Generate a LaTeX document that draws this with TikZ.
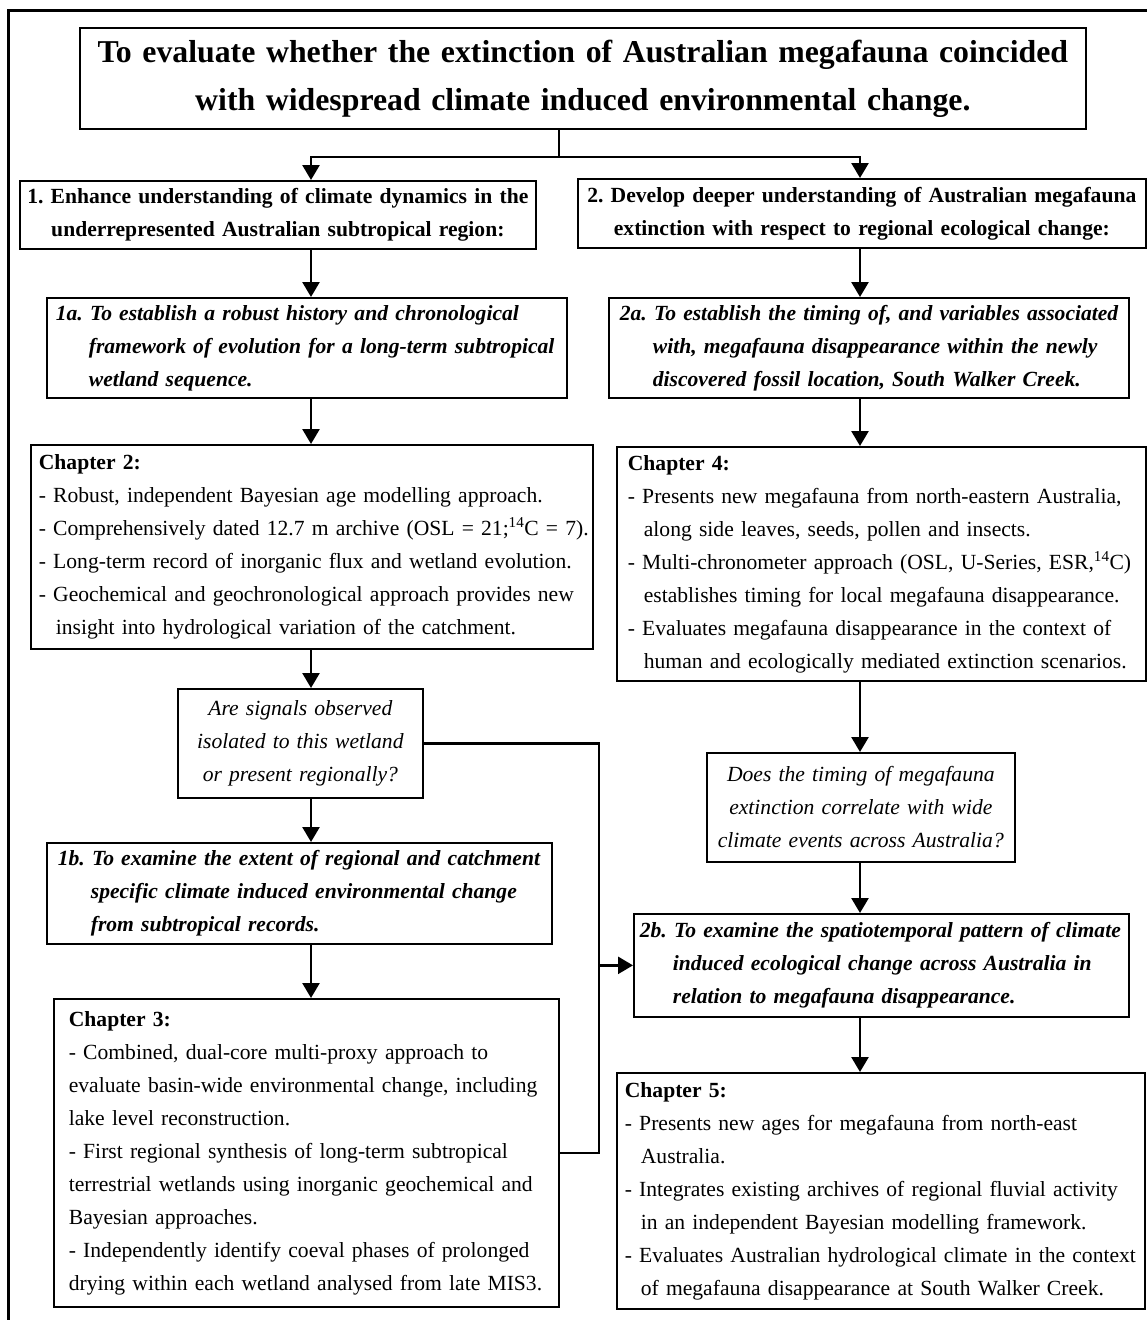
\documentclass[tikz,border=0pt]{standalone}
\usepackage{fontspec}
\setmainfont{Liberation Serif}
\usetikzlibrary{arrows.meta}
\tikzset{
  box/.style={draw, line width=1.7pt, inner xsep=0pt, inner ysep=0pt, anchor=north west,
    font=\fontsize{21.6}{33}\selectfont},
  conn/.style={line width=2.6pt},
  arr/.style={conn, -{Triangle[width=17pt,length=15pt]}},
}
\newcommand{\lx}[1]{\mbox{#1}}
\newcommand{\hg}{\hspace*{33pt}}
\newcommand{\hb}{\hspace*{16pt}}
\hbadness=10000 \hfuzz=200pt
\frenchspacing
\begin{document}
\begin{tikzpicture}[x=1pt,y=1pt]
\useasboundingbox[fill=white] (0,0) rectangle (1147,-1320);
\draw[line width=3pt] (8,-1320) -- (8,-10) -- (1147,-10);

\coordinate (colL) at (311,0);
\coordinate (colR) at (860,0);
\coordinate (busx) at (599,0);
\coordinate (split) at (559,-157);

\node[box, at={(79,-27)}, minimum width=1006pt, minimum height=101pt, text width=1000pt, align=center,
  font=\fontsize{31.8}{48}\selectfont\bfseries] (title)
  {\lx{To evaluate whether the extinction of Australian megafauna coincided}\\\lx{with widespread climate induced environmental change.}};

\node[box, at={(19,-180)}, minimum width=516pt, minimum height=68pt, text width=510pt, align=center,
  font=\fontsize{21.6}{33}\selectfont\bfseries] (b1)
  {\lx{1. Enhance understanding of climate dynamics in the}\\\lx{underrepresented Australian subtropical region:}};

\node[box, at={(577,-178)}, minimum width=568pt, minimum height=69pt, text width=562pt, align=center,
  font=\fontsize{21.6}{33}\selectfont\bfseries] (b2)
  {\lx{2. Develop deeper understanding of Australian megafauna}\\\lx{extinction with respect to regional ecological change:}};

\node[box, at={(46,-297)}, minimum width=520pt, minimum height=100pt, text width=502pt, align=left,
  font=\fontsize{21.6}{33}\selectfont\bfseries\itshape] (b1a)
  {\lx{1a. To establish a robust history and chronological}\\\lx{\hg framework of evolution for a long-term subtropical}\\\lx{\hg wetland sequence.}};

\node[box, at={(608,-297)}, minimum width=520pt, minimum height=100pt, text width=498pt, align=left,
  font=\fontsize{21.6}{33}\selectfont\bfseries\itshape] (b2a)
  {\lx{2a. To establish the timing of, and variables associated}\\\lx{\hg with, megafauna disappearance within the newly}\\\lx{\hg discovered fossil location, South Walker Creek.}};

\node[box, at={(30,-444)}, minimum width=562pt, minimum height=204pt, text width=546pt, align=left] (ch2)
  {\lx{\textbf{Chapter 2:}}\\
   \lx{- Robust, independent Bayesian age modelling approach.}\\
   \lx{- Comprehensively dated 12.7 m archive (OSL = 21;\textsuperscript{14}C = 7).}\\
   \lx{- Long-term record of inorganic flux and wetland evolution.}\\
   \lx{- Geochemical and geochronological approach provides new}\\
   \lx{\hspace*{17pt}insight into hydrological variation of the catchment.}};

\node[box, at={(616,-446)}, minimum width=529pt, minimum height=234pt, text width=507pt, align=left] (ch4)
  {\lx{\textbf{Chapter 4:}}\\
   \lx{- Presents new megafauna from north-eastern Australia,}\\
   \lx{\hb along side leaves, seeds, pollen and insects.}\\
   \lx{- Multi-chronometer approach (OSL, U-Series, ESR,\textsuperscript{14}C)}\\
   \lx{\hb establishes timing for local megafauna disappearance.}\\
   \lx{- Evaluates megafauna disappearance in the context of}\\
   \lx{\hb human and ecologically mediated extinction scenarios.}};

\node[box, at={(177,-688)}, minimum width=245pt, minimum height=109pt, text width=240pt, align=center,
  font=\fontsize{21.6}{33}\selectfont\itshape] (q1)
  {\lx{Are signals observed}\\\lx{isolated to this wetland}\\\lx{or present regionally?}};

\node[box, at={(706,-752)}, minimum width=308pt, minimum height=109pt, text width=302pt, align=center,
  font=\fontsize{21.6}{33}\selectfont\itshape] (q2)
  {\lx{Does the timing of megafauna}\\\lx{extinction correlate with wide}\\\lx{climate events across Australia?}};

\node[box, at={(46,-842)}, minimum width=505pt, minimum height=101pt, text width=483pt, align=left,
  font=\fontsize{21.6}{33}\selectfont\bfseries\itshape] (b1b)
  {\lx{1b. To examine the extent of regional and catchment}\\\lx{\hg specific climate induced environmental change}\\\lx{\hg from subtropical records.}};

\node[box, at={(633,-913)}, minimum width=495pt, minimum height=103pt, text width=483pt, align=left,
  font=\fontsize{21.6}{33}\selectfont\bfseries\itshape] (b2b)
  {\lx{2b. To examine the spatiotemporal pattern of climate}\\\lx{\hg induced ecological change across Australia in}\\\lx{\hg relation to megafauna disappearance.}};

\node[box, at={(53,-998)}, minimum width=505pt, minimum height=308pt, text width=475pt, align=left] (ch3)
  {\lx{\textbf{Chapter 3:}}\\
   \lx{- Combined, dual-core multi-proxy approach to}\\
   \lx{evaluate basin-wide environmental change, including}\\
   \lx{lake level reconstruction.}\\
   \lx{- First regional synthesis of long-term subtropical}\\
   \lx{terrestrial wetlands using inorganic geochemical and}\\
   \lx{Bayesian approaches.}\\
   \lx{- Independently identify coeval phases of prolonged}\\
   \lx{drying within each wetland analysed from late MIS3.}};

\node[box, at={(616,-1072)}, minimum width=528pt, minimum height=236pt, text width=512pt, align=left] (ch5)
  {\lx{\textbf{Chapter 5:}}\\
   \lx{- Presents new ages for megafauna from north-east}\\
   \lx{\hb Australia.}\\
   \lx{- Integrates existing archives of regional fluvial activity}\\
   \lx{\hb in an independent Bayesian modelling framework.}\\
   \lx{- Evaluates Australian hydrological climate in the context}\\
   \lx{\hb of megafauna disappearance at South Walker Creek.}};

% connectors
\draw[conn] (title.south -| split) -- (split);
\draw[arr] (split) -| (b1.north -| colL);
\draw[arr] (split) -| (b2.north -| colR);
\draw[arr] (b1.south -| colL) -- (b1a.north -| colL);
\draw[arr] (b1a.south -| colL) -- (ch2.north -| colL);
\draw[arr] (ch2.south -| colL) -- (q1.north -| colL);
\draw[arr] (q1.south -| colL) -- (b1b.north -| colL);
\draw[arr] (b1b.south -| colL) -- (ch3.north -| colL);
\draw[arr] (b2.south -| colR) -- (b2a.north -| colR);
\draw[arr] (b2a.south -| colR) -- (ch4.north -| colR);
\draw[arr] (ch4.south -| colR) -- (q2.north -| colR);
\draw[arr] (q2.south -| colR) -- (b2b.north -| colR);
\draw[arr] (b2b.south -| colR) -- (ch5.north -| colR);
\draw[conn] (q1.east) -- (q1.east -| busx) -- (ch3.east -| busx) -- (ch3.east);
\draw[arr] (b2b.west -| busx) -- (b2b.west);
\end{tikzpicture}
\end{document}
